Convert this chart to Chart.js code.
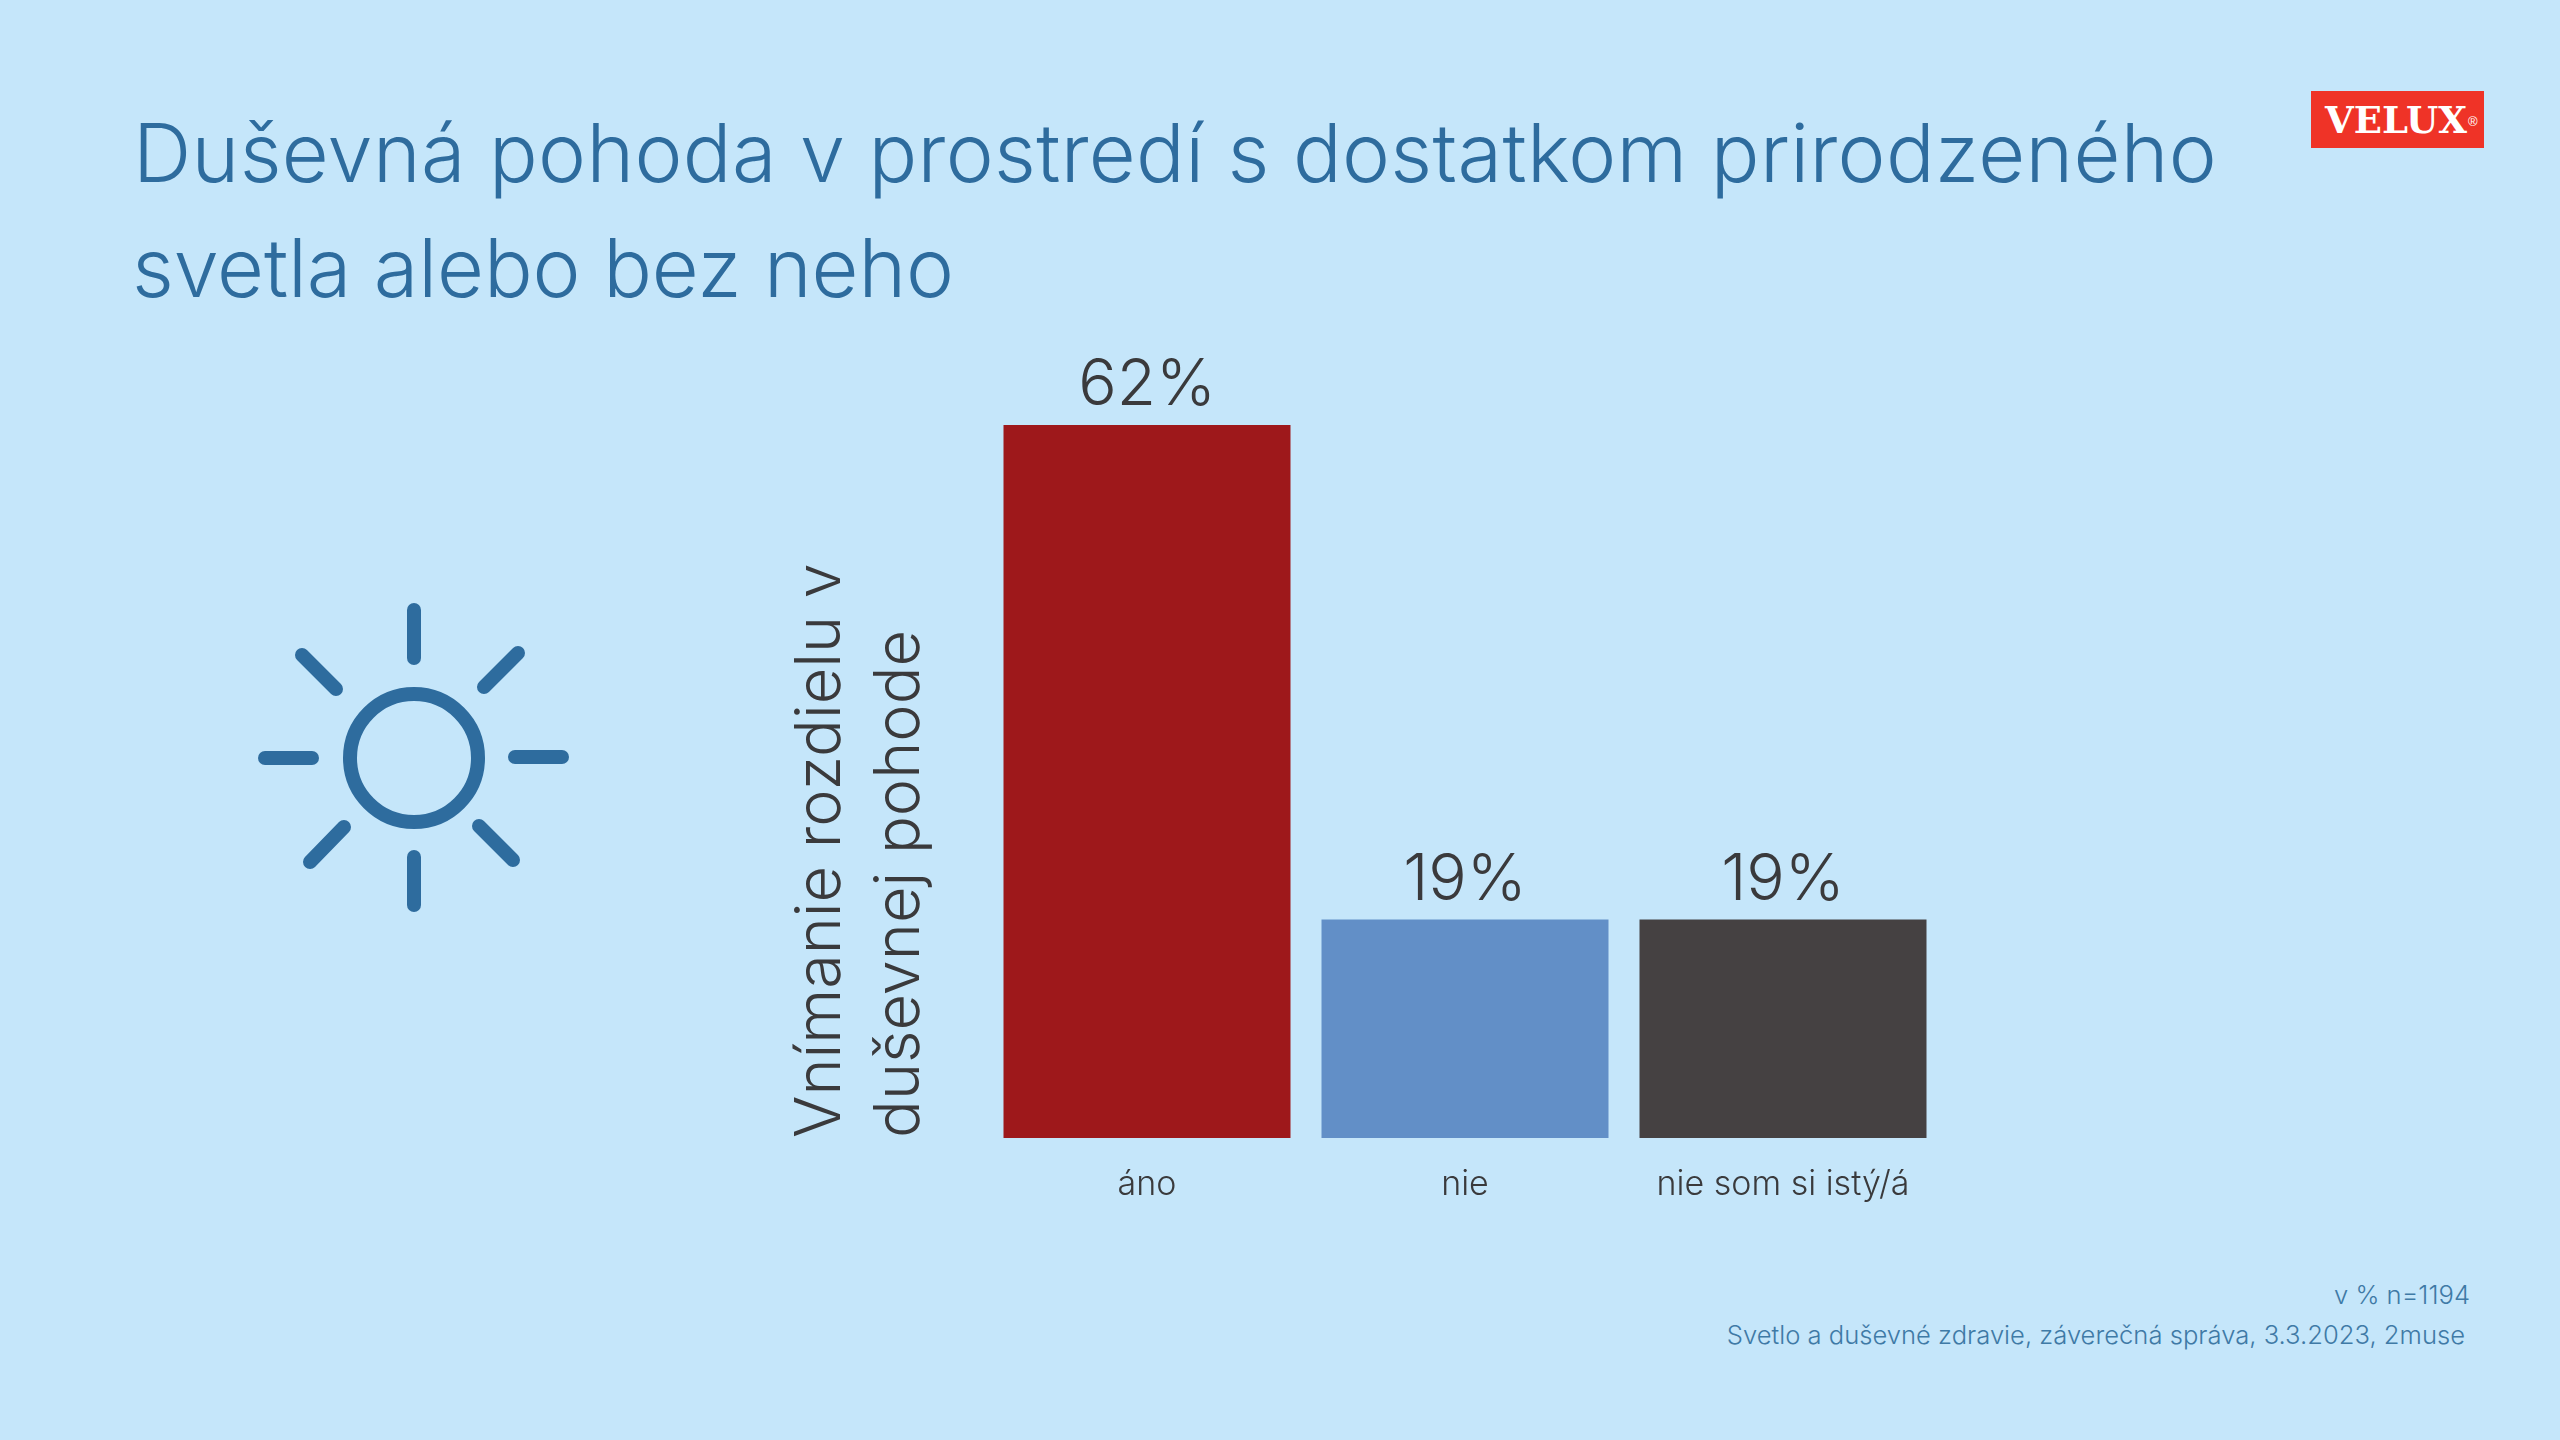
<!DOCTYPE html>
<html lang="sk">
<head>
<meta charset="utf-8">
<title>Duševná pohoda</title>
<script src="https://cdn.jsdelivr.net/npm/chart.js@4"></script>
<style>
    html, body { margin: 0; padding: 0; }
    body { width: 2560px; height: 1440px; background: #c5e6fa; position: relative; overflow: hidden; font-family: Inter, sans-serif; }
    .title { position: absolute; left: 133px; font-size: 81px; font-weight: 300; color: #2e6c9e; line-height: 114px; white-space: nowrap; }
    .note { position: absolute; right: 90px; font-size: 25.6px; font-weight: 300; color: #3f7aa6; line-height: 30px; white-space: nowrap; }
    #logo { position: absolute; left: 2311px; top: 91px; width: 173px; height: 57px; background: #ef3327; color: #fff; font-family: "DejaVu Serif", serif; font-weight: 700; font-size: 37px; line-height: 59px; text-indent: 14px; white-space: nowrap; }
    #logo sup { font-family: "Liberation Sans", sans-serif; font-size: 13px; font-weight: 400; position: relative; top: -2px; left: 1px; vertical-align: middle; }
    #sun { position: absolute; left: 0; top: 0; }
    #chartBox { position: absolute; left: 781px; top: 333px; width: 1161px; height: 897px; }
</style>
</head>
<body>
<div class="title" style="top:96px;letter-spacing:0.35px">Duševná pohoda v prostredí s dostatkom prirodzeného</div>
<div class="title" style="top:211px;left:132px;letter-spacing:-0.1px">svetla alebo bez neho</div>
<div id="logo">VELUX<sup>®</sup></div>

<svg id="sun" width="700" height="1000" fill="none" stroke="#2e6c9e" stroke-width="14" stroke-linecap="round">
    <circle cx="414" cy="758" r="64"/>
    <line x1="414" y1="610" x2="414" y2="658"/>
    <line x1="414" y1="857" x2="414" y2="905"/>
    <line x1="265" y1="758" x2="312" y2="758"/>
    <line x1="515" y1="757" x2="562" y2="757"/>
    <line x1="302" y1="655" x2="336" y2="689"/>
    <line x1="518" y1="653" x2="484" y2="687"/>
    <line x1="344" y1="827" x2="310" y2="862"/>
    <line x1="479" y1="826" x2="513" y2="860"/>
</svg>

<div id="chartBox"><canvas id="chart" width="1161" height="897"></canvas></div>

<div class="note" style="top:1280px">v % n=1194</div>
<div class="note" style="top:1320px;right:95px">Svetlo a duševné zdravie, záverečná správa, 3.3.2023, 2muse</div>

<script>
const categories = ['áno', 'nie', 'nie som si istý/á'];
const values = [62, 19, 19];
const barColors = ['#9e181b', '#628fc7', '#454142'];
const axisTitle = ['Vnímanie rozdielu v', 'duševnej pohode'];
const textColor = '#3a3a3c';

// prints the value above each bar
const valueLabels = {
    id: 'valueLabels',
    afterDatasetsDraw(chart) {
        const ctx = chart.ctx;
        ctx.save();
        ctx.font = '300 64px Inter, sans-serif';
        ctx.fillStyle = textColor;
        ctx.textAlign = 'center';
        ctx.textBaseline = 'alphabetic';
        chart.getDatasetMeta(0).data.forEach((bar, i) => {
            ctx.fillText(values[i] + '%', bar.x, bar.y - 20);
        });
        ctx.restore();
    }
};

new Chart(document.getElementById('chart').getContext('2d'), {
    type: 'bar',
    data: {
        labels: categories,
        datasets: [{
            data: values,
            backgroundColor: barColors,
            barPercentage: 0.9025,
            categoryPercentage: 1,
        }],
    },
    options: {
        responsive: false,
        animation: false,
        devicePixelRatio: 1,
        layout: { padding: 0 },
        plugins: { legend: { display: false }, tooltip: { enabled: false } },
        scales: {
            x: {
                grid: { display: false },
                border: { display: false },
                ticks: {
                    color: textColor,
                    padding: 18,
                    maxRotation: 0,
                    font: { family: 'Inter, sans-serif', size: 34, weight: '300' },
                },
                afterFit(scale) { scale.height = 92; },
            },
            y: {
                min: 0,
                max: 70,
                grid: { display: false },
                border: { display: false },
                ticks: { display: false },
                title: {
                    display: true,
                    text: axisTitle,
                    align: 'start',
                    color: textColor,
                    padding: { top: 1, bottom: 0 },
                    font: { family: 'Inter, sans-serif', size: 63, weight: '300', lineHeight: 1.25 },
                },
                afterFit(scale) { scale.width = 207; },
            },
        },
    },
    plugins: [valueLabels],
});
</script>
</body>
</html>
